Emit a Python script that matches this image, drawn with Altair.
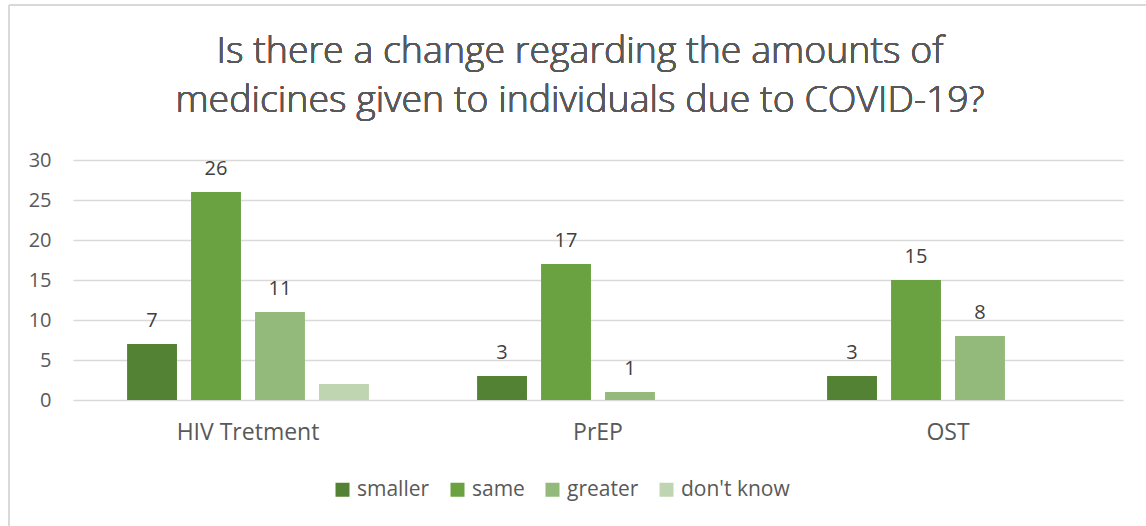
import altair as alt
import pandas as pd

# Survey answers: count of responses per treatment and change category
treatments = ["HIV Tretment", "HIV Tretment", "HIV Tretment", "HIV Tretment",
              "PrEP", "PrEP", "PrEP",
              "OST", "OST", "OST"]
answers = ["smaller", "same", "greater", "don't know",
           "smaller", "same", "greater",
           "smaller", "same", "greater"]
counts = [7, 26, 11, 2,
          3, 17, 1,
          3, 15, 8]

treatment_order = ["HIV Tretment", "PrEP", "OST"]
answer_order = ["smaller", "same", "greater", "don't know"]
answer_colors = ["#548235", "#6AA242", "#93BA7B", "#BFD5B2"]
labelled_answers = ["smaller", "same", "greater"]
y_ticks = [0, 5, 10, 15, 20, 25, 30]
title_lines = ["Is there a change regarding the amounts of",
               "medicines given to individuals due to COVID-19?"]

df = pd.DataFrame({"treatment": treatments, "answer": answers, "count": counts})
df["label"] = [str(c) if a in labelled_answers else "" for a, c in zip(answers, counts)]

FONT = "Open Sans"
TEXT_GREY = "#595959"
GRID = "#D9D9D9"

x_enc = alt.X("treatment:N", sort=treatment_order,
              scale=alt.Scale(paddingInner=0.309, paddingOuter=0.1545),
              axis=alt.Axis(title=None, labelAngle=0, labelFontSize=23,
                            labelColor=TEXT_GREY, labelPadding=21,
                            ticks=False, domain=False, labelFont=FONT))
xo_enc = alt.XOffset("answer:N", sort=answer_order,
                     scale=alt.Scale(paddingInner=0.22, paddingOuter=0))
y_enc = alt.Y("count:Q",
              scale=alt.Scale(domain=[0, 30], nice=False),
              axis=alt.Axis(title=None, values=y_ticks, tickCount=7,
                            labelFontSize=20, labelColor=TEXT_GREY,
                            labelPadding=22, ticks=False, domain=False,
                            gridColor=GRID, gridWidth=1.5, labelFont=FONT,
                            labelOverlap=False))

bars = alt.Chart(df).mark_bar().encode(
    x=x_enc,
    xOffset=xo_enc,
    y=y_enc,
    color=alt.Color("answer:N", sort=answer_order,
                    scale=alt.Scale(domain=answer_order, range=answer_colors),
                    legend=alt.Legend(title=None, orient="none", direction="horizontal",
                                      legendX=259, legendY=319,
                                      symbolType="square", symbolSize=196,
                                      symbolStrokeWidth=0, labelFontSize=21,
                                      labelColor=TEXT_GREY, labelFont=FONT,
                                      columnPadding=17, symbolOffset=0,
                                      labelOffset=4)),
)

labels = alt.Chart(df).mark_text(
    dy=-17, fontSize=20, color="#404040", font=FONT, baseline="alphabetic"
).encode(
    x=x_enc,
    xOffset=xo_enc,
    y=y_enc,
    text="label:N",
)

# two-line heading, centred above the plot
title_1 = alt.Chart(df).mark_text(
    fontSize=37.5, font=FONT, fontWeight=300, color=TEXT_GREY,
    baseline="alphabetic", align="center"
).encode(x=alt.value(507), y=alt.value(-97), text=alt.value(title_lines[0]))
title_2 = alt.Chart(df).mark_text(
    fontSize=37.5, font=FONT, fontWeight=300, color=TEXT_GREY,
    baseline="alphabetic", align="center"
).encode(x=alt.value(507), y=alt.value(-48), text=alt.value(title_lines[1]))

# light frame around the whole figure
frame_top = alt.Chart(df).mark_rule(color=GRID, strokeWidth=1.5).encode(
    x=alt.value(-64), x2=alt.value(1100), y=alt.value(-155))
frame_left = alt.Chart(df).mark_rule(color=GRID, strokeWidth=1.5).encode(
    x=alt.value(-64), y=alt.value(-155), y2=alt.value(400))

chart = alt.layer(frame_top, frame_left, title_1, title_2, bars, labels).properties(
    width=1050,
    height=240,
    autosize=alt.AutoSizeParams(type="none"),
    padding={"left": 73, "top": 160, "right": 23, "bottom": 126},
).configure_view(stroke=None)

chart.save("out.html", embed_options={"renderer": "svg", "actions": False})
